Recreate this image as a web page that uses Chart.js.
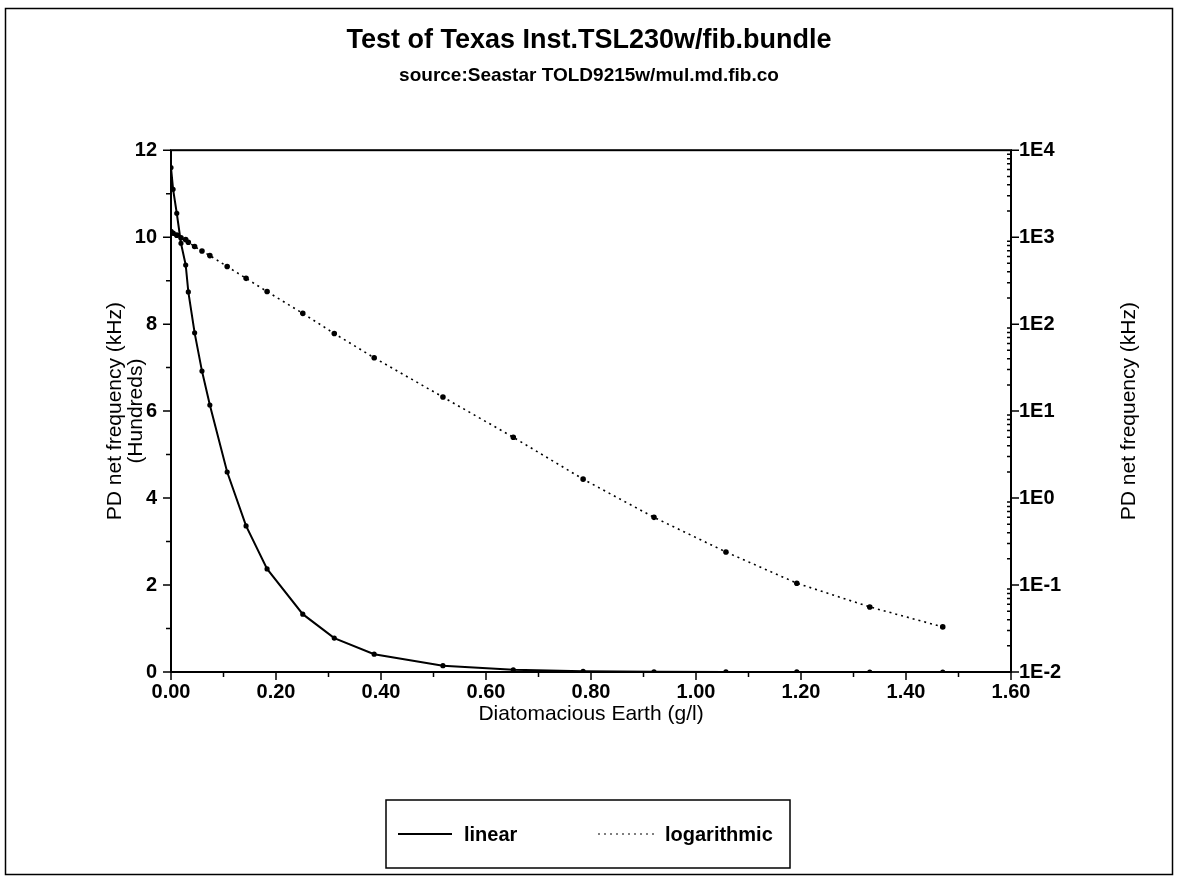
<!DOCTYPE html>
<html>
<head>
<meta charset="utf-8">
<script src="https://cdn.jsdelivr.net/npm/chart.js@4/dist/chart.umd.min.js"></script>
<style>
html, body { margin: 0; padding: 0; background: #fff; }
#wrap { width: 1178px; height: 879px; position: relative; }
</style>
</head>
<body>
<div id="wrap"><canvas id="c" width="1178" height="879"></canvas></div>
<script>
// ---- data ----
const concentration = [0, 0.004, 0.011, 0.019, 0.028, 0.033, 0.045, 0.059, 0.074, 0.107, 0.143, 0.183, 0.251, 0.311, 0.387, 0.518, 0.652, 0.785, 0.920, 1.057, 1.192, 1.331, 1.470];
const linearHundreds = [11.6, 11.1, 10.55, 9.86, 9.36, 8.74, 7.8, 6.92, 6.14, 4.6, 3.36, 2.37, 1.33, 0.78, 0.41, 0.145, 0.05, 0.0165, 0.006, 0.0024, 0.00105, 0.00056, 0.00033];
const logKHz = [1160, 1110, 1055, 986, 936, 874, 780, 692, 614, 460, 336, 237, 133, 78, 41, 14.5, 5.0, 1.65, 0.60, 0.24, 0.105, 0.056, 0.033];

const seriesNames = ['linear', 'logarithmic'];
const xTicks = [0, 0.2, 0.4, 0.6, 0.8, 1.0, 1.2, 1.4, 1.6];
const yTicks = [0, 2, 4, 6, 8, 10, 12];
const y2Ticks = [0.01, 0.1, 1, 10, 100, 1000, 10000];
const y2Labels = ['1E-2', '1E-1', '1E0', '1E1', '1E2', '1E3', '1E4'];

const titleText = 'Test of Texas Inst.TSL230w/fib.bundle';
const subtitleText = 'source:Seastar TOLD9215w/mul.md.fib.co';
const xTitle = 'Diatomacious Earth (g/l)';
const yTitle = ['PD net frequency (kHz)', '(Hundreds)'];
const y2Title = 'PD net frequency (kHz)';

const FAMILY = "'Liberation Sans', Arial, sans-serif";

const decor = {
  id: 'decor',
  afterDraw(chart) {
    const ctx = chart.ctx, a = chart.chartArea;
    const sx = chart.scales.x, sy = chart.scales.y, s2 = chart.scales.y2;
    ctx.save();
    ctx.strokeStyle = '#000';
    ctx.fillStyle = '#000';
    // outer frame
    ctx.lineWidth = 1.5;
    ctx.strokeRect(5.5, 8.5, 1167, 866);
    // plot frame
    ctx.lineWidth = 2;
    ctx.strokeRect(a.left, a.top, a.right - a.left, a.bottom - a.top);
    // tick marks
    ctx.lineWidth = 1.5;
    ctx.beginPath();
    xTicks.forEach((v, i) => {
      const px = sx.getPixelForValue(v);
      ctx.moveTo(px, a.bottom); ctx.lineTo(px, a.bottom + 8);
      if (i < xTicks.length - 1) {
        const pm = sx.getPixelForValue((v + xTicks[i + 1]) / 2);
        ctx.moveTo(pm, a.bottom); ctx.lineTo(pm, a.bottom + 5);
      }
    });
    yTicks.forEach((v, i) => {
      const py = sy.getPixelForValue(v);
      ctx.moveTo(a.left, py); ctx.lineTo(a.left - 8, py);
      if (i < yTicks.length - 1) {
        const pm = sy.getPixelForValue((v + yTicks[i + 1]) / 2);
        ctx.moveTo(a.left, pm); ctx.lineTo(a.left - 5, pm);
      }
    });
    y2Ticks.forEach((v, i) => {
      const py = s2.getPixelForValue(v);
      ctx.moveTo(a.right, py); ctx.lineTo(a.right + 8, py);
      if (i < y2Ticks.length - 1) {
        for (let m = 2; m <= 9; m++) {
          const pm = s2.getPixelForValue(v * m);
          ctx.moveTo(a.right, pm); ctx.lineTo(a.right - 4, pm);
        }
      }
    });
    ctx.stroke();

    // rotated axis titles
    const midY = (a.top + a.bottom) / 2;
    ctx.font = "normal 21px " + FAMILY;
    ctx.textAlign = 'center';
    ctx.textBaseline = 'middle';
    const drawRot = (text, x, y) => {
      ctx.save(); ctx.translate(x, y); ctx.rotate(-Math.PI / 2); ctx.fillText(text, 0, 0); ctx.restore();
    };
    drawRot(yTitle[0], 115, midY);
    drawRot(yTitle[1], 136, midY);
    drawRot(y2Title, 1129, midY);

    // legend
    const bx = 386, by = 800, bw = 404, bh = 68;
    ctx.lineWidth = 1.5;
    ctx.strokeRect(bx, by, bw, bh);
    const ly = by + bh / 2;
    const items = [
      { x0: 398, x1: 452, tx: 464 },
      { x0: 598, x1: 655, tx: 665 }
    ];
    ctx.font = "bold 20px " + FAMILY;
    ctx.textAlign = 'left';
    chart.data.datasets.forEach((ds, i) => {
      const it = items[i];
      ctx.save();
      ctx.strokeStyle = ds.borderColor;
      ctx.lineWidth = i === 0 ? 1.8 : 1.2;
      ctx.setLineDash(ds.borderDash || []);
      ctx.beginPath(); ctx.moveTo(it.x0, ly); ctx.lineTo(it.x1, ly); ctx.stroke();
      ctx.restore();
      ctx.fillText(ds.label, it.tx, ly + 1);
    });
    ctx.restore();
  }
};

const tickFont = { family: FAMILY, size: 20, weight: 'bold' };

new Chart(document.getElementById('c'), {
  type: 'scatter',
  data: {
    datasets: [
      {
        label: seriesNames[0],
        data: concentration.map((x, i) => ({ x, y: linearHundreds[i] })),
        yAxisID: 'y',
        showLine: true,
        borderColor: '#000',
        backgroundColor: '#000',
        borderWidth: 2,
        pointRadius: 1.6,
        pointHoverRadius: 1.6,
        tension: 0
      },
      {
        label: seriesNames[1],
        data: concentration.map((x, i) => ({ x, y: logKHz[i] })),
        yAxisID: 'y2',
        showLine: true,
        borderColor: '#000',
        backgroundColor: '#000',
        borderWidth: 1.6,
        borderDash: [2, 4],
        pointRadius: 2,
        pointHoverRadius: 2,
        tension: 0
      }
    ]
  },
  options: {
    responsive: false,
    animation: false,
    devicePixelRatio: 1,
    layout: { padding: { top: 0, left: 0, right: 0, bottom: 147 } },
    plugins: {
      legend: { display: false },
      tooltip: { enabled: false },
      title: {
        display: true,
        text: titleText,
        color: '#000',
        font: { family: FAMILY, size: 27, weight: 'bold', lineHeight: 1.2 },
        padding: { top: 24, bottom: 4 }
      },
      subtitle: {
        display: true,
        text: subtitleText,
        color: '#000',
        font: { family: FAMILY, size: 19, weight: 'bold', lineHeight: 1.2 },
        padding: { top: 4, bottom: 63 }
      }
    },
    scales: {
      x: {
        type: 'linear',
        min: 0, max: 1.6,
        afterBuildTicks: s => { s.ticks = xTicks.map(v => ({ value: v })); },
        afterFit: s => { s.height = 60; },
        ticks: { color: '#000', font: tickFont, padding: 0, autoSkip: false, maxRotation: 0,
                 callback: v => Number(v).toFixed(2) },
        grid: { display: false },
        border: { display: false },
        title: { display: true, text: xTitle, color: '#000',
                 font: { family: FAMILY, size: 21, weight: 'normal' }, padding: { top: 0, bottom: 5 } }
      },
      y: {
        type: 'linear', position: 'left',
        min: 0, max: 12,
        afterBuildTicks: s => { s.ticks = yTicks.map(v => ({ value: v })); },
        afterFit: s => { s.width = 171; },
        ticks: { color: '#000', font: tickFont, padding: 6, autoSkip: false },
        grid: { display: false },
        border: { display: false }
      },
      y2: {
        type: 'logarithmic', position: 'right',
        min: 0.01, max: 10000,
        afterBuildTicks: s => { s.ticks = y2Ticks.map(v => ({ value: v })); },
        afterFit: s => { s.width = 167; },
        ticks: { color: '#000', font: tickFont, padding: 0, autoSkip: false,
                 callback: (v, i) => y2Labels[i] },
        grid: { display: false },
        border: { display: false }
      }
    }
  },
  plugins: [decor]
});
</script>
</body>
</html>
